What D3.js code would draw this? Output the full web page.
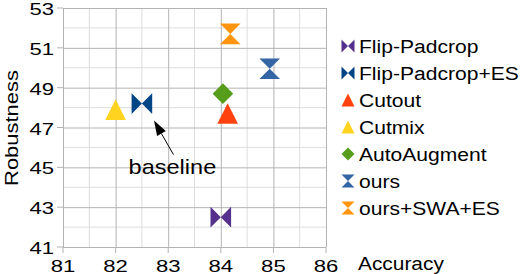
<!DOCTYPE html>
<html>
<head>
<meta charset="utf-8">
<script src="https://cdn.jsdelivr.net/npm/d3@7"></script>
<style>
  html, body { margin: 0; padding: 0; background: #fff; }
  text { font-family: "Liberation Sans", Arial, sans-serif; fill: #000; }
</style>
</head>
<body>
<svg id="chart"></svg>
<script>
// chart data
const names = ["Flip-Padcrop", "Flip-Padcrop+ES", "Cutout", "Cutmix", "AutoAugment", "ours", "ours+SWA+ES"];
const accuracy = [84.0, 82.5, 84.13, 82.0, 84.04, 84.93, 84.18];
const robustness = [42.5, 48.2, 47.7, 47.9, 48.7, 49.95, 51.7];
const shapes = ["bowtie", "bowtie", "triangle", "triangle", "diamond", "hourglass", "hourglass"];
const colors = ["#55308d", "#004586", "#ff420e", "#ffd320", "#579d1c", "#3465a4", "#ff950e"];

const xTicks = [81, 82, 83, 84, 85, 86];
const yTicks = [41, 43, 45, 47, 49, 51, 53];
const xMinor = [81.5, 82.5, 83.5, 84.5, 85.5];
const yMinor = [42, 44, 46, 48, 50, 52];

// "baseline" note, in data units
const noteText = "baseline";
const noteLabel = [83.08, 44.66];
const noteFrom = [83.1, 45.64];
const noteTo = [82.73, 47.35];

const W = 522, H = 274;
const svg = d3.select("#chart").attr("width", W).attr("height", H);

const x = d3.scaleLinear().domain([81, 86]).range([63, 326]);
const y = d3.scaleLinear().domain([41, 53]).range([247, 8]);

// wider glyphs than plain Arial in the original
function stretch(sel, k) {
    sel.each(function () {
        const w = this.getComputedTextLength();
        d3.select(this).attr("textLength", w * k).attr("lengthAdjust", "spacingAndGlyphs");
    });
}

function markerPath(shape, s) {
    const p = d3.path();
    if (shape == "bowtie") {
        p.moveTo(-s, -s); p.lineTo(0, 0); p.lineTo(s, -s); p.lineTo(s, s); p.lineTo(0, 0); p.lineTo(-s, s);
    } else if (shape == "hourglass") {
        p.moveTo(-s, -s); p.lineTo(s, -s); p.lineTo(0, 0); p.lineTo(s, s); p.lineTo(-s, s); p.lineTo(0, 0);
    } else if (shape == "triangle") {
        p.moveTo(0, -s); p.lineTo(s, s); p.lineTo(-s, s);
    } else {
        p.moveTo(0, -s); p.lineTo(s, 0); p.lineTo(0, s); p.lineTo(-s, 0);
    }
    p.closePath();
    return p.toString();
}

// grid
const grid = svg.append("g");
grid.selectAll(".vminor").data(xMinor).join("line")
    .attr("x1", d => x(d)).attr("x2", d => x(d)).attr("y1", y(53)).attr("y2", y(41))
    .style("stroke", "#dddddd").style("stroke-width", 1);
grid.selectAll(".hminor").data(yMinor).join("line")
    .attr("x1", x(81)).attr("x2", x(86)).attr("y1", d => y(d)).attr("y2", d => y(d))
    .style("stroke", "#dddddd").style("stroke-width", 1);

const xAxis = svg.append("g").attr("transform", `translate(0,${y(41)})`)
    .call(d3.axisBottom(x).tickValues(xTicks).tickSize(6).tickSizeInner(-(y(41) - y(53))).tickFormat(""));
const yAxis = svg.append("g").attr("transform", `translate(${x(81)},0)`)
    .call(d3.axisLeft(y).tickValues(yTicks).tickSize(6).tickSizeInner(-(x(86) - x(81))).tickFormat(""));
[xAxis, yAxis].forEach(a => {
    a.select(".domain").remove();
    a.selectAll(".tick line").style("stroke", "#b3b3b3");
});
// outer tick stubs
svg.append("g").selectAll("line").data(xTicks).join("line")
    .attr("x1", d => x(d)).attr("x2", d => x(d)).attr("y1", y(41)).attr("y2", y(41) + 6)
    .style("stroke", "#b3b3b3");
svg.append("g").selectAll("line").data(yTicks).join("line")
    .attr("x1", x(81) - 6).attr("x2", x(81)).attr("y1", d => y(d)).attr("y2", d => y(d))
    .style("stroke", "#b3b3b3");

// tick labels
svg.append("g").selectAll("text").data(xTicks).join("text")
    .attr("x", d => x(d)).attr("y", 272).attr("text-anchor", "middle")
    .style("font-size", "17px").text(d => d)
    .call(stretch, 1.3);
svg.append("g").selectAll("text").data(yTicks).join("text")
    .attr("x", 54).attr("y", d => y(d) + 7).attr("text-anchor", "end")
    .style("font-size", "17px").text(d => d)
    .call(stretch, 1.3);

// axis titles
svg.append("text").attr("transform", "translate(18,128) rotate(-90)")
    .attr("text-anchor", "middle").style("font-size", "18px").text("Robustness")
    .call(stretch, 1.22);
svg.append("text").attr("x", 358).attr("y", 269.5)
    .style("font-size", "18px").text("Accuracy")
    .call(stretch, 1.16);

// points
const pts = d3.range(names.length);
svg.append("g").selectAll("path").data(pts).join("path")
    .attr("transform", i => `translate(${x(accuracy[i])},${y(robustness[i])})`)
    .attr("d", i => markerPath(shapes[i], 10.3))
    .style("fill", i => colors[i]);

// annotation arrow
const ax1 = x(noteFrom[0]), ay1 = y(noteFrom[1]), ax2 = x(noteTo[0]), ay2 = y(noteTo[1]);
const ang = Math.atan2(ay2 - ay1, ax2 - ax1);
const hl = 15, hw = 5;
const bx = ax2 - hl * Math.cos(ang), by = ay2 - hl * Math.sin(ang);
svg.append("line").attr("x1", ax1).attr("y1", ay1).attr("x2", bx).attr("y2", by)
    .style("stroke", "#000").style("stroke-width", 1);
svg.append("path")
    .attr("d", `M${ax2},${ay2}L${bx - hw * Math.sin(ang)},${by + hw * Math.cos(ang)}L${bx + hw * Math.sin(ang)},${by - hw * Math.cos(ang)}Z`)
    .style("fill", "#000");
svg.append("text").attr("x", x(noteLabel[0])).attr("y", y(noteLabel[1]))
    .attr("text-anchor", "middle").style("font-size", "21px").text(noteText)
    .call(stretch, 1.12);

// legend
const legend = svg.append("g").selectAll("g").data(pts).join("g")
    .attr("transform", i => `translate(348,${46 + 27 * i})`);
legend.append("path")
    .attr("d", i => markerPath(shapes[i], 6.5))
    .style("fill", i => colors[i]);
legend.append("text").attr("x", 11).attr("y", 6.7)
    .style("font-size", "18px").text(i => names[i])
    .call(stretch, 1.17);
</script>
</body>
</html>
